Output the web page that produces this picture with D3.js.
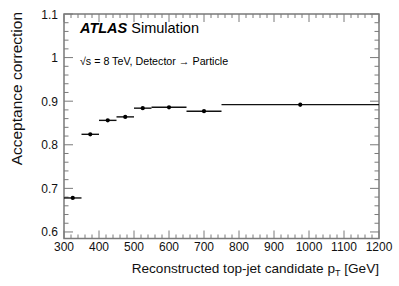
<!DOCTYPE html>
<html><head><meta charset="utf-8">
<script src="https://cdn.jsdelivr.net/npm/d3@7/dist/d3.min.js"></script>
<style>body{margin:0;background:#fff}svg{display:block;font-family:"Liberation Sans",Arial,sans-serif}</style>
</head><body>
<svg id="c" width="399" height="286"></svg>
<script>
const binLow  = [300, 350, 400, 450, 500, 550, 650, 750];
const binHigh = [350, 400, 450, 500, 550, 650, 750, 1200];
const values  = [0.678, 0.824, 0.856, 0.864, 0.884, 0.886, 0.877, 0.892];
const errors  = [0.002, 0.002, 0.002, 0.002, 0.002, 0.002, 0.003, 0.004];
const xTicks = [300, 400, 500, 600, 700, 800, 900, 1000, 1100, 1200];
const yTicks = [0.6, 0.7, 0.8, 0.9, 1.0, 1.1];
const yTickLabels = ["0.6", "0.7", "0.8", "0.9", "1", "1.1"];

const L = 64, R = 379, T = 14, B = 238.5;
const svg = d3.select("#c");
const x = d3.scaleLinear().domain([300, 1200]).range([L, R]);
const y = d3.scaleLinear().domain([0.585, 1.1]).range([B, T]);
const axCol = "#7a7a7a";

// frame
svg.append("rect").attr("x", L).attr("y", T).attr("width", R - L).attr("height", B - T)
  .attr("fill", "none").attr("stroke", axCol).attr("stroke-width", 1.5);

// x ticks
const xMinor = d3.range(300, 1201, 20);
xMinor.forEach(v => {
  const major = v % 100 === 0;
  const len = major ? 8 : 4;
  svg.append("line").attr("x1", x(v)).attr("x2", x(v)).attr("y1", B).attr("y2", B - len).attr("stroke", axCol).attr("stroke-width", 1);
  svg.append("line").attr("x1", x(v)).attr("x2", x(v)).attr("y1", T).attr("y2", T + len).attr("stroke", axCol).attr("stroke-width", 1);
});
svg.selectAll(".xl").data(xTicks).join("text").attr("x", d => x(d)).attr("y", 251)
  .attr("text-anchor", "middle").attr("font-size", 12).attr("fill", "#111").text(d => d);

// y ticks
const yMinor = d3.range(60, 111, 2).map(v => v / 100);
yMinor.forEach(v => {
  const major = Math.round(v * 100) % 10 === 0;
  const len = major ? 9 : 4.5;
  svg.append("line").attr("x1", L).attr("x2", L + len).attr("y1", y(v)).attr("y2", y(v)).attr("stroke", axCol).attr("stroke-width", 1);
  svg.append("line").attr("x1", R).attr("x2", R - len).attr("y1", y(v)).attr("y2", y(v)).attr("stroke", axCol).attr("stroke-width", 1);
});
svg.selectAll(".yl").data(yTicks).join("text").attr("x", 58).attr("y", d => y(d) + 4.5)
  .attr("text-anchor", "end").attr("font-size", 12).attr("fill", "#111").text((d, i) => yTickLabels[i]);

// data
const g = svg.append("g");
values.forEach((v, i) => {
  g.append("line").attr("x1", x(binLow[i])).attr("x2", x(binHigh[i])).attr("y1", y(v)).attr("y2", y(v))
    .attr("stroke", "#111").attr("stroke-width", 1.4);
  g.append("line").attr("x1", x((binLow[i] + binHigh[i]) / 2)).attr("x2", x((binLow[i] + binHigh[i]) / 2))
    .attr("y1", y(v - errors[i])).attr("y2", y(v + errors[i])).attr("stroke", "#111").attr("stroke-width", 1.4);
  g.append("circle").attr("cx", x((binLow[i] + binHigh[i]) / 2)).attr("cy", y(v)).attr("r", 2.1).attr("fill", "#000");
});

// labels
const t1 = svg.append("text").attr("x", 80).attr("y", 33).attr("font-size", 14.5).attr("fill", "#000");
t1.append("tspan").attr("font-weight", "bold").attr("font-style", "italic").text("ATLAS");
t1.append("tspan").text(" Simulation");

svg.append("text").attr("x", 80).attr("y", 65).attr("font-size", 10.7).attr("fill", "#000")
  .text("\u221As = 8 TeV, Detector \u2192 Particle");

svg.append("text").attr("transform", "translate(22,12) rotate(-90)").attr("text-anchor", "end")
  .attr("font-size", 15.5).attr("fill", "#111").text("Acceptance correction");

const xt = svg.append("text").attr("x", 379).attr("y", 273).attr("text-anchor", "end").attr("font-size", 13.6).attr("fill", "#111");
xt.append("tspan").text("Reconstructed top-jet candidate p");
xt.append("tspan").attr("font-size", 9).attr("dy", 3).text("T");
xt.append("tspan").attr("dy", -3).text(" [GeV]");
</script>
</body></html>
